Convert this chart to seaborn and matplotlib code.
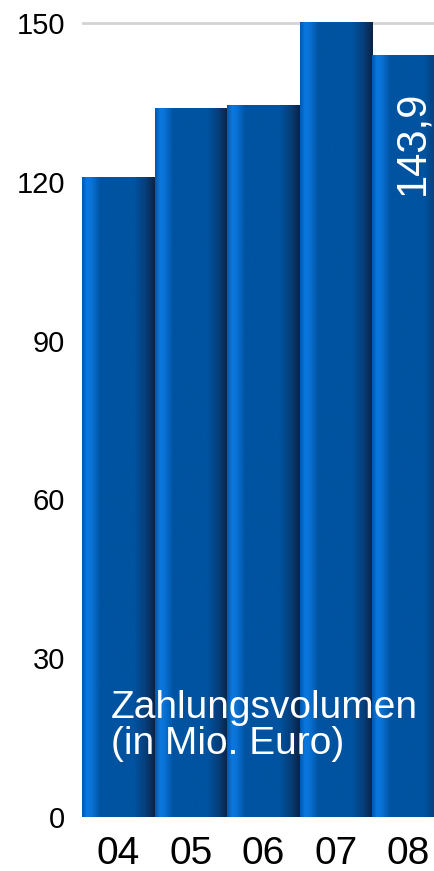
import matplotlib
matplotlib.use("Agg")
import matplotlib.pyplot as plt
import numpy as np
import seaborn as sns
from matplotlib.colors import LinearSegmentedColormap

years = ["04", "05", "06", "07", "08"]
volumen = [120.9, 133.9, 134.6, 150.2, 143.9]
yticks = [0, 30, 60, 90, 120, 150]
label_last = "143,9"
title_text = "Zahlungsvolumen\n(in Mio. Euro)"

sns.set_style("white")
plt.rcParams["font.family"] = ["Liberation Sans", "DejaVu Sans"]

fig = plt.figure(figsize=(4.34, 8.71), dpi=100)
ax = fig.add_axes([0.189, 0.062, 0.811, 0.938])

sns.barplot(x=years, y=volumen, width=1.0, color="#0053a0", ax=ax,
            edgecolor="none", linewidth=0, zorder=2)

# horizontal shading on every bar: bright stripe on the left, dark right edge
bar_cmap = LinearSegmentedColormap.from_list("bar", [
    (0.00, "#0058b0"), (0.07, "#0a78e0"), (0.13, "#0a72d6"),
    (0.25, "#0053a0"), (0.72, "#0053a0"), (0.88, "#073d78"),
    (1.00, "#0a2244")])
grad = np.linspace(0, 1, 256).reshape(1, -1)
for p in ax.patches:
    x0, y0 = p.get_x(), p.get_y()
    im = ax.imshow(grad, cmap=bar_cmap, aspect="auto", zorder=3,
                   extent=[x0, x0 + p.get_width(), y0, y0 + p.get_height()])
    im.set_clip_path(p)

ax.set_xlim(-0.5, 4.354)
ax.set_ylim(0, 154.35)
ax.set_yticks(yticks)
ax.set_yticklabels([str(t) for t in yticks], fontsize=21)
ax.tick_params(axis="x", labelsize=28, length=0, pad=14, labelcolor="black")
ax.tick_params(axis="y", length=0, pad=12, labelcolor="black")
ax.yaxis.grid(True, color="#d4d4d4", linewidth=2)
ax.set_axisbelow(True)
for s in ax.spines.values():
    s.set_visible(False)

ax.text(4.05, 137.2, label_last, rotation=90, ha="center", va="top",
        color="white", fontsize=30, zorder=5)
ax.text(-0.1, 10.3, title_text, ha="left", va="bottom", color="white",
        fontsize=28, linespacing=1.0, zorder=5)

fig.savefig("out.png", dpi=100)
